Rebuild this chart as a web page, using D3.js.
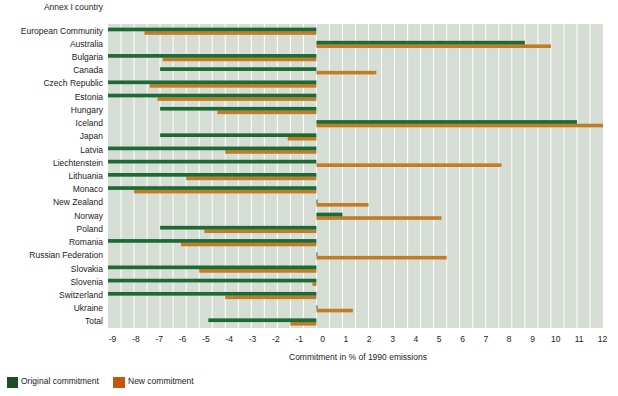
<!DOCTYPE html>
<html>

<head>
    <meta charset="utf-8">
    <style>
        body {
            margin: 0;
            background: #fff;
        }

        svg {
            display: block;
            font-family: "Liberation Sans", Arial, sans-serif;
        }

        .country {
            font-size: 8.5px;
            fill: #222;
        }

        .x .tick text {
            font-size: 8.5px;
            fill: #222;
        }

        .x .domain {
            display: none;
        }

        .axis-label {
            font-size: 8.5px;
            fill: #222;
        }

        .legends {
            font-size: 8.5px;
            fill: #222;
        }
    </style>
    <title>Kyoto commitments</title>
</head>

<body>
    <svg width="618" height="396"></svg>

    <script src="https://d3js.org/d3.v7.min.js"></script>
    <script>
        let countries = [
            "European Community", "Australia", "Bulgaria", "Canada", "Czech Republic",
            "Estonia", "Hungary", "Iceland", "Japan", "Latvia", "Liechtenstein",
            "Lithuania", "Monaco", "New Zealand", "Norway", "Poland", "Romania",
            "Russian Federation", "Slovakia", "Slovenia", "Switzerland", "Ukraine", "Total"]

        // % of 1990 emissions
        let original = [
            -8, 8, -8, -6, -8,
            -8, -6, 10, -6, -8, -8,
            -8, -8, 0, 1, -6, -8,
            0, -8, -8, -8, 0, -4.15]

        let revised = [
            -6.6, 9, -5.9, 2.3, -6.4,
            -6.1, -3.8, 11, -1.1, -3.5, 7.1,
            -5, -7, 2, 4.8, -4.3, -5.2,
            5, -4.5, -0.15, -3.5, 1.4, -1]

        let tickLabels = ["-9", "-8", "-7", "-6", "-5", "-4", "-3", "-2", "-1", "0", "1",
            "2", "3", "4", "5", "6", "7", "8", "9", "10", "11", "12"]

        let data = countries.map((c, i) => ({ country: c, orig: original[i], rev: revised[i] }))

        let svg = d3.select("svg")

        let plot = { left: 108, right: 603, top: 24, bottom: 328 }

        let x = d3.scaleLinear()
            .domain([-8, 11])
            .range([plot.left, plot.right])

        let y = d3.scaleBand()
            .domain(countries)
            .range([plot.top, plot.bottom])

        // background panel + white grid every half unit
        svg.append("rect")
            .attr("x", plot.left)
            .attr("y", plot.top)
            .attr("width", plot.right - plot.left)
            .attr("height", plot.bottom - plot.top)
            .attr("fill", "#d5ddd5")

        svg.append("g")
            .selectAll("line")
            .data(d3.range(-7.5, 11, 0.5))
            .join("line")
            .attr("x1", d => x(d))
            .attr("x2", d => x(d))
            .attr("y1", plot.top)
            .attr("y2", plot.bottom)
            .attr("stroke", "#fff")
            .attr("stroke-width", 1)

        let barW = v => Math.max(1, Math.abs(x(v) - x(0)))

        // new commitment (under)
        svg.append("g")
            .selectAll("rect")
            .data(data)
            .join("rect")
            .attr("x", d => Math.min(x(d.rev), x(0)))
            .attr("y", d => y(d.country) + 7.2)
            .attr("width", d => barW(d.rev))
            .attr("height", 3.6)
            .attr("fill", "#c27c24")

        // original commitment
        svg.append("g")
            .selectAll("rect")
            .data(data)
            .join("rect")
            .attr("x", d => Math.min(x(d.orig), x(0)))
            .attr("y", d => y(d.country) + 3.6)
            .attr("width", d => barW(d.orig))
            .attr("height", 3.7)
            .attr("fill", "#1d6a35")

        svg.append("g")
            .selectAll("text")
            .data(countries)
            .join("text")
            .attr("class", "country")
            .attr("x", 103)
            .attr("y", d => y(d) + y.bandwidth() / 2 + 3)
            .attr("text-anchor", "end")
            .text(d => d)

        svg.append("text")
            .attr("class", "country")
            .attr("x", 103)
            .attr("y", 10)
            .attr("text-anchor", "end")
            .text("Annex I country")

        // the printed tick labels do not line up with the bar scale
        let xLab = d3.scalePoint()
            .domain(tickLabels)
            .range([112, 602])

        svg.append("g")
            .attr("class", "x axis")
            .attr("transform", `translate(0,${plot.bottom})`)
            .call(d3.axisBottom(xLab).tickSize(0).tickPadding(8))

        svg.append("text")
            .attr("class", "axis-label")
            .attr("x", 289)
            .attr("y", 360)
            .text("Commitment in % of 1990 emissions")

        // legend
        svg.append("rect")
            .attr("x", 7)
            .attr("y", 377)
            .attr("width", 11)
            .attr("height", 11)
            .attr("fill", "#1d4c25")

        svg.append("text")
            .attr("class", "legends")
            .attr("x", 21)
            .attr("y", 384)
            .text("Original commitment")

        svg.append("rect")
            .attr("x", 113)
            .attr("y", 377)
            .attr("width", 12)
            .attr("height", 11)
            .attr("fill", "#c2570e")

        svg.append("text")
            .attr("class", "legends")
            .attr("x", 128)
            .attr("y", 384)
            .text("New commitment")
    </script>
</body>

</html>
